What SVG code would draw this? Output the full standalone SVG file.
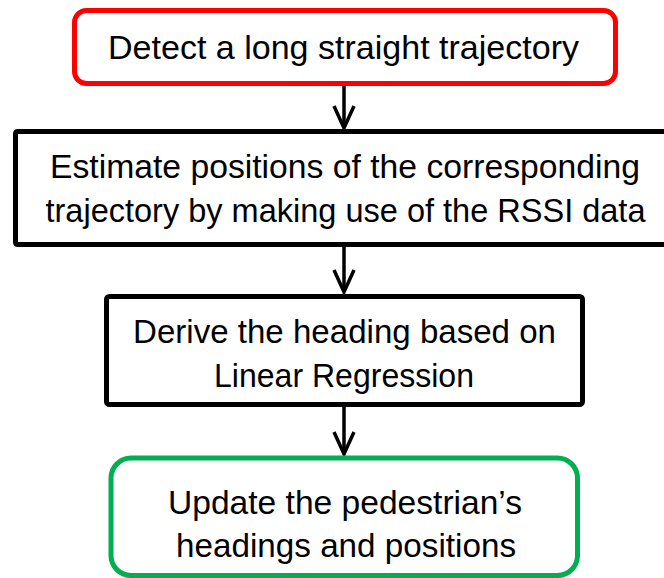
<svg xmlns="http://www.w3.org/2000/svg" width="664" height="578" viewBox="0 0 664 578">
  <style>
    .box { fill: #ffffff; stroke-width: 5; }
    .lbl { font-family: "Liberation Sans", Arial, sans-serif; font-size: 33px; fill: #000000; text-anchor: middle; }
    .conn { stroke: #000000; stroke-width: 3.5; fill: none; }
  </style>
  <defs>
    <marker id="chev" markerUnits="userSpaceOnUse" viewBox="-26 -14 30 28" refX="0" refY="0" markerWidth="30" markerHeight="28" orient="auto">
      <path d="M-22,-10 L0,0 L-22,10" fill="none" stroke="#000000" stroke-width="3.5" stroke-linejoin="miter"/>
    </marker>
  </defs>
  <rect width="664" height="578" fill="#ffffff"/>

  <g id="connectors">
    <line class="conn" x1="344" y1="86" x2="344" y2="128" marker-end="url(#chev)"/>
    <line class="conn" x1="344" y1="247" x2="344" y2="292" marker-end="url(#chev)"/>
    <line class="conn" x1="344" y1="407" x2="344" y2="454" marker-end="url(#chev)"/>
  </g>

  <g id="node-detect">
    <rect class="box" x="74.5" y="10.5" width="541" height="73" rx="12" ry="12" stroke="#ff0000"/>
    <text class="lbl" x="343.5" y="59" textLength="471" lengthAdjust="spacingAndGlyphs">Detect a long straight trajectory</text>
  </g>

  <g id="node-estimate">
    <rect class="box" x="15.5" y="131.5" width="660" height="113" rx="2" ry="2" stroke="#000000"/>
    <text class="lbl" x="345" y="178" textLength="590" lengthAdjust="spacingAndGlyphs">Estimate positions of the corresponding</text>
    <text class="lbl" x="345.5" y="222" textLength="600" lengthAdjust="spacingAndGlyphs">trajectory by making use of the RSSI data</text>
  </g>

  <g id="node-derive">
    <rect class="box" x="106.5" y="296.5" width="476" height="108" rx="3" ry="3" stroke="#000000"/>
    <text class="lbl" x="344.5" y="343" textLength="423" lengthAdjust="spacingAndGlyphs">Derive the heading based on</text>
    <text class="lbl" x="344" y="387" textLength="260" lengthAdjust="spacingAndGlyphs">Linear Regression</text>
  </g>

  <g id="node-update">
    <rect class="box" x="111" y="458" width="466.5" height="117.5" rx="20" ry="20" stroke="#00b050"/>
    <text class="lbl" x="345" y="514" textLength="354" lengthAdjust="spacingAndGlyphs">Update the pedestrian’s</text>
    <text class="lbl" x="346" y="557" textLength="340" lengthAdjust="spacingAndGlyphs">headings and positions</text>
  </g>
</svg>
